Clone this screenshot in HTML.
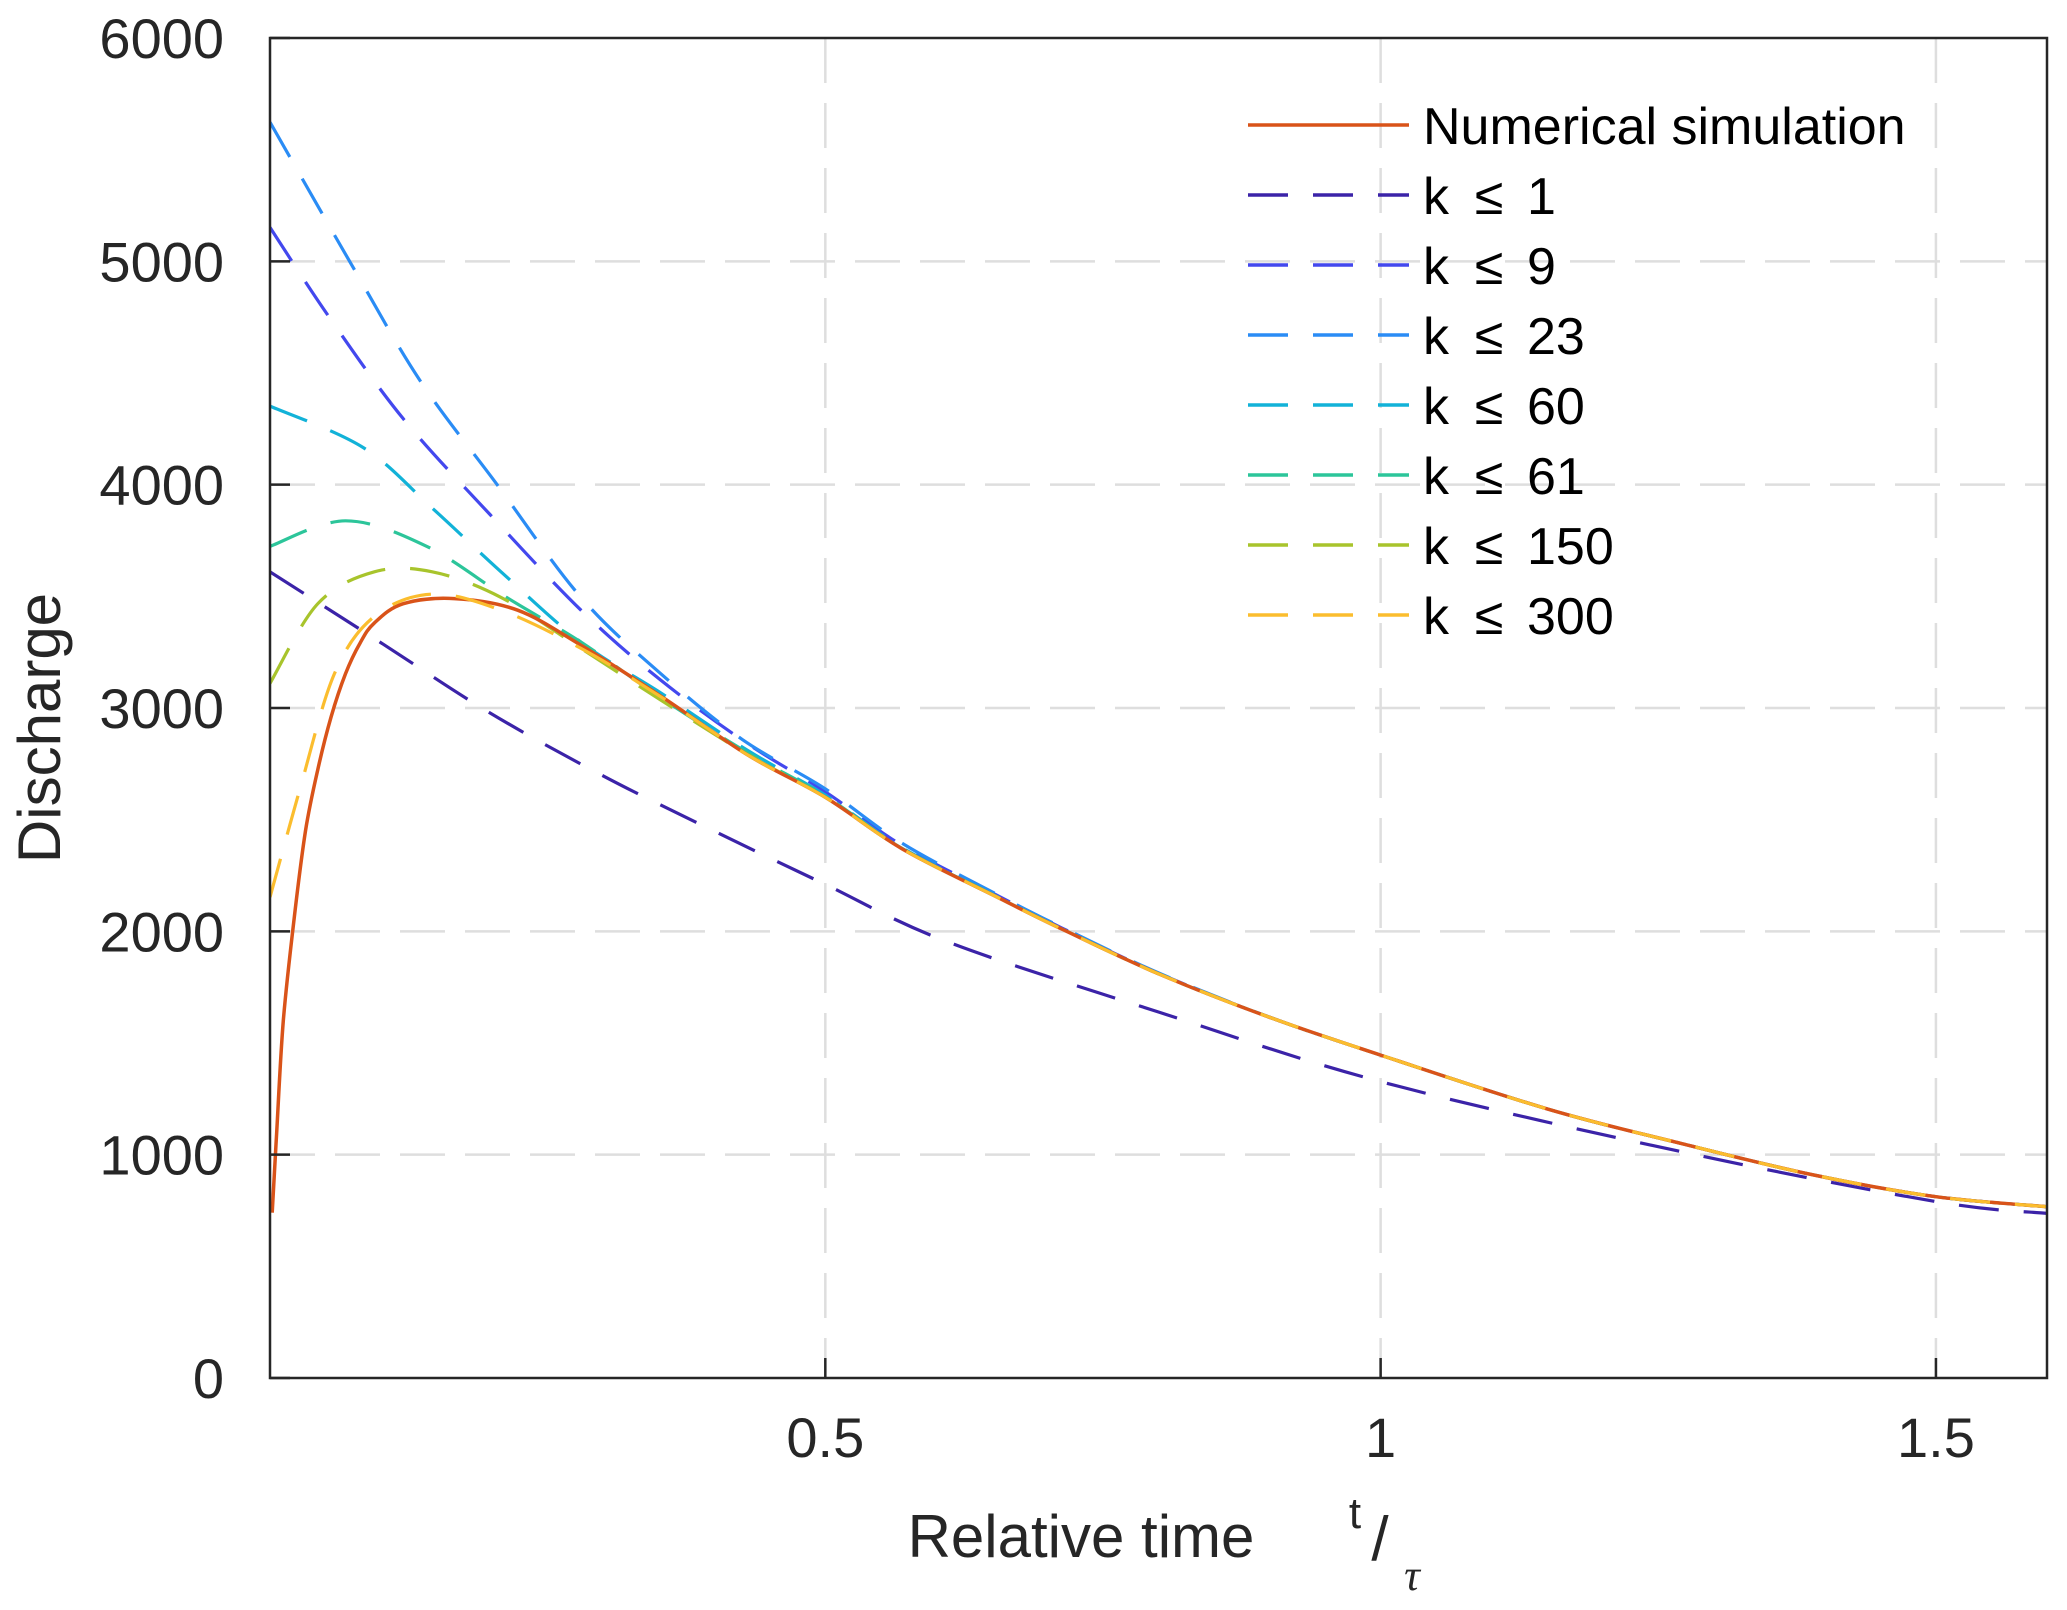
<!DOCTYPE html>
<html><head><meta charset="utf-8"><style>
html,body{margin:0;padding:0;background:#fff;}
svg{display:block;font-family:"Liberation Sans",Arial,sans-serif;}
</style></head><body>
<svg id="chart" width="2067" height="1610" viewBox="0 0 2067 1610" xmlns="http://www.w3.org/2000/svg">
<rect x="0" y="0" width="2067" height="1610" fill="#fff"/>
<g id="grid"></g>
<g id="series"></g>
<g id="axes"></g>
<g id="legend"></g>
</svg>
<script>
const xTicks = [0.5, 1, 1.5];
const xTickLabels = ["0.5", "1", "1.5"];
const yTicks = [0, 1000, 2000, 3000, 4000, 5000, 6000];
const yTickLabels = ["0", "1000", "2000", "3000", "4000", "5000", "6000"];

const seriesNames = ["Numerical simulation", "k \u2264 1", "k \u2264 9", "k \u2264 23", "k \u2264 60", "k \u2264 61", "k \u2264 150", "k \u2264 300"];

const tNum = [0.002, 0.006, 0.012, 0.022, 0.032, 0.043, 0.055, 0.068, 0.081, 0.094, 0.12, 0.166, 0.223, 0.28, 0.352, 0.43, 0.5, 0.569, 0.652, 0.713, 0.8, 0.9, 1.0, 1.15, 1.27, 1.39, 1.5, 1.6];
const vNum = [740, 1100, 1600, 2067, 2450, 2724, 2960, 3153, 3290, 3381, 3467, 3490, 3438, 3281, 3053, 2790, 2600, 2370, 2160, 2010, 1810, 1615, 1446, 1205, 1051, 909, 812, 767];

const tK1 = [0, 0.099, 0.197, 0.3, 0.404, 0.5, 0.61, 0.8, 1.0, 1.27, 1.5, 1.6];
const vK1 = [3610, 3295, 2981, 2696, 2439, 2210, 1953, 1639, 1327, 1014, 790, 737];

const tK9 = [0, 0.053, 0.12, 0.198, 0.28, 0.352, 0.43, 0.5, 0.569, 0.652, 0.713, 0.8, 0.9, 1.0, 1.15, 1.27, 1.39, 1.5, 1.6];
const vK9 = [5152, 4752, 4295, 3867, 3438, 3124, 2840, 2625, 2385, 2168, 2015, 1812, 1615, 1446, 1205, 1051, 909, 812, 767];

const tK23 = [0, 0.074, 0.135, 0.203, 0.28, 0.352, 0.425, 0.5, 0.569, 0.652, 0.713, 0.8, 0.9, 1.0, 1.15, 1.27, 1.39, 1.5, 1.6];
const vK23 = [5623, 4980, 4467, 4010, 3495, 3153, 2860, 2638, 2395, 2172, 2018, 1814, 1616, 1446, 1205, 1051, 909, 812, 767];

const tK60 = [0, 0.084, 0.146, 0.208, 0.28, 0.352, 0.43, 0.5, 0.569, 0.652, 0.713, 0.8, 0.9, 1.0, 1.15, 1.27, 1.39, 1.5, 1.6];
const vK60 = [4352, 4166, 3895, 3610, 3295, 3067, 2810, 2610, 2375, 2163, 2012, 1811, 1615, 1446, 1205, 1051, 909, 812, 767];

const tK61 = [0, 0.068, 0.141, 0.213, 0.28, 0.352, 0.43, 0.5, 0.569, 0.652, 0.713, 0.8, 0.9, 1.0, 1.15, 1.27, 1.39, 1.5, 1.6];
const vK61 = [3724, 3838, 3724, 3495, 3295, 3045, 2800, 2605, 2372, 2161, 2011, 1810, 1615, 1446, 1205, 1051, 909, 812, 767];

const tK150 = [0, 0.043, 0.094, 0.146, 0.208, 0.28, 0.352, 0.43, 0.5, 0.569, 0.652, 0.713, 0.8, 0.9, 1.0, 1.15, 1.27, 1.39, 1.5, 1.6];
const vK150 = [3110, 3467, 3610, 3610, 3495, 3267, 3035, 2792, 2600, 2370, 2160, 2010, 1810, 1615, 1446, 1205, 1051, 909, 812, 767];

const tK300 = [0, 0.027, 0.058, 0.094, 0.146, 0.208, 0.28, 0.352, 0.43, 0.5, 0.569, 0.652, 0.713, 0.8, 0.9, 1.0, 1.15, 1.27, 1.39, 1.5, 1.6];
const vK300 = [2153, 2638, 3153, 3410, 3510, 3438, 3267, 3050, 2790, 2600, 2370, 2160, 2010, 1810, 1615, 1446, 1205, 1051, 909, 812, 767];

const seriesT = [tNum, tK1, tK9, tK23, tK60, tK61, tK150, tK300];
const seriesV = [vNum, vK1, vK9, vK23, vK60, vK61, vK150, vK300];
const seriesColors = ["#d95319", "#3b23a8", "#4348ee", "#2a8cf5", "#12b2d8", "#2cc59a", "#a8c42c", "#fbbd2e"];
const seriesKeys = ["numerical", "k1", "k9", "k23", "k60", "k61", "k150", "k300"];

const NS = "http://www.w3.org/2000/svg";
const L = 270, R = 2047, T = 38, B = 1378;
const xMin = 0, xMax = 1.6, yMin = 0, yMax = 6000;
function xs(v){ return L + (v - xMin) / (xMax - xMin) * (R - L); }
function ys(v){ return B - (v - yMin) / (yMax - yMin) * (B - T); }
function mk(tag, attrs, parent){ const e = document.createElementNS(NS, tag); for (const k in attrs) e.setAttribute(k, attrs[k]); parent.appendChild(e); return e; }

const grid = document.getElementById('grid');
xTicks.forEach((t, i) => {
  const g = mk('line', {x1: xs(t), x2: xs(t), y1: T, y2: B, stroke: '#dedede', 'stroke-width': 2.5, 'stroke-dasharray': '45 20'}, grid);
  
  
});
yTicks.forEach((v, i) => {
  if (v === yMin || v === yMax) return;
  const g = mk('line', {x1: L, x2: R, y1: ys(v), y2: ys(v), stroke: '#dedede', 'stroke-width': 2.5, 'stroke-dasharray': '45 20'}, grid);
  
  
});

function smoothPath(ts, vs){
  const p = ts.map((t, i) => [xs(t), ys(vs[i])]);
  let d = 'M' + p[0][0].toFixed(1) + ',' + p[0][1].toFixed(1);
  for (let i = 0; i < p.length - 1; i++) {
    const p0 = p[Math.max(0, i - 1)], p1 = p[i], p2 = p[i + 1], p3 = p[Math.min(p.length - 1, i + 2)];
    const c1x = p1[0] + (p2[0] - p0[0]) / 6, c1y = p1[1] + (p2[1] - p0[1]) / 6;
    const c2x = p2[0] - (p3[0] - p1[0]) / 6, c2y = p2[1] - (p3[1] - p1[1]) / 6;
    d += 'C' + c1x.toFixed(1) + ',' + c1y.toFixed(1) + ' ' + c2x.toFixed(1) + ',' + c2y.toFixed(1) + ' ' + p2[0].toFixed(1) + ',' + p2[1].toFixed(1);
  }
  return d;
}

const sg = document.getElementById('series');
const clip = mk('clipPath', {id: 'plotclip'}, sg);
mk('rect', {x: L, y: T, width: R - L, height: B - T}, clip);
const order = [1, 2, 3, 4, 5, 6, 0, 7];
order.forEach(i => {
  const path = mk('path', {d: smoothPath(seriesT[i], seriesV[i]), fill: 'none', stroke: seriesColors[i], 'stroke-width': i === 0 ? 3.5 : 3.2, 'clip-path': 'url(#plotclip)'}, sg);
  if (i !== 0) path.setAttribute('stroke-dasharray', '40 25');
  
  
});

const ax = document.getElementById('axes');
const box = mk('rect', {x: L, y: T, width: R - L, height: B - T, fill: 'none', stroke: '#262626', 'stroke-width': 2.5}, ax);


xTicks.forEach((t, i) => {
  const tk = mk('line', {x1: xs(t), x2: xs(t), y1: B, y2: B - 20, stroke: '#262626', 'stroke-width': 2.5}, ax);
  
  
  const lb = mk('text', {x: xs(t), y: B + 79, 'text-anchor': 'middle', 'font-size': 56, fill: '#262626'}, ax);
  lb.textContent = xTickLabels[i];
  
  
});
yTicks.forEach((v, i) => {
  const tk = mk('line', {x1: L, x2: L + 20, y1: ys(v), y2: ys(v), stroke: '#262626', 'stroke-width': 2.5}, ax);
  
  
  const lb = mk('text', {x: 224, y: ys(v) + 20, 'text-anchor': 'end', 'font-size': 56, fill: '#262626'}, ax);
  lb.textContent = yTickLabels[i];
  
  
});
const yt = mk('text', {x: 0, y: 0, 'text-anchor': 'middle', 'font-size': 60, fill: '#262626', transform: 'translate(60,728) rotate(-90)'}, ax);
yt.textContent = 'Discharge';


const xt = mk('text', {x: 1081, y: 1557, 'text-anchor': 'middle', 'font-size': 60, fill: '#262626'}, ax);
xt.textContent = 'Relative time';


const xtT = mk('text', {x: 1355, y: 1528, 'text-anchor': 'middle', 'font-size': 44, fill: '#262626'}, ax);
xtT.textContent = 't';


const xtS = mk('text', {x: 1380, y: 1560, 'text-anchor': 'middle', 'font-size': 62, fill: '#262626'}, ax);
xtS.textContent = '/';


const xtTau = mk('text', {x: 1412, y: 1590, 'text-anchor': 'middle', 'font-size': 44, 'font-style': 'italic', fill: '#262626', 'font-family': '"Liberation Serif", serif'}, ax);
xtTau.textContent = 'τ';



const lg = document.getElementById('legend');
const rowY = [125, 195, 265, 335, 405, 475, 545, 615];
seriesNames.forEach((n, i) => {
  const g = mk('g', {}, lg);
  
  
  const ln = mk('line', {x1: 1248, x2: 1409, y1: rowY[i], y2: rowY[i], stroke: seriesColors[i], 'stroke-width': 3.5}, g);
  if (i !== 0) ln.setAttribute('stroke-dasharray', '40 25');
  
  
  const tx = mk('text', {x: 1423, y: rowY[i] + 19, 'font-size': 52, fill: '#000'}, g);
  if (i === 0) {
    tx.textContent = n;
  } else {
    const parts = n.split(' \u2264 ');
    tx.textContent = 'k';
    const le = mk('text', {x: 1489, y: rowY[i] + 19, 'font-size': 52, 'text-anchor': 'middle', fill: '#000'}, g);
    le.textContent = '\u2264';
    
    
    const nm = mk('text', {x: 1527, y: rowY[i] + 19, 'font-size': 52, fill: '#000'}, g);
    nm.textContent = parts[1];
    
    
  }
  
  
});
</script>
</body></html>
